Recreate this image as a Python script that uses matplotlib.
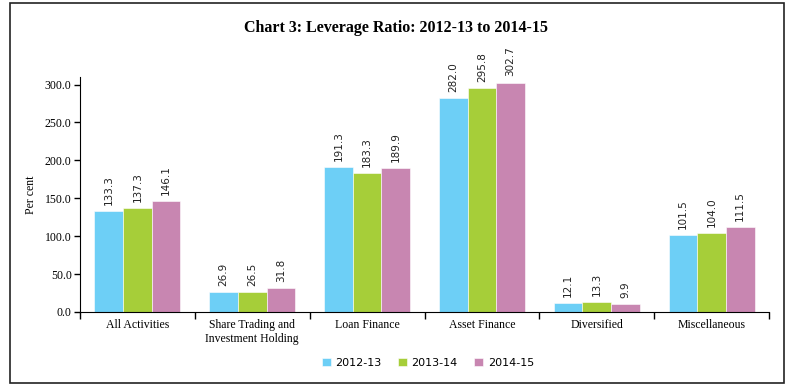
import matplotlib.pyplot as plt
import numpy as np
from matplotlib.patches import Rectangle

categories = ['All Activities', 'Share Trading and\nInvestment Holding', 'Loan Finance',
              'Asset Finance', 'Diversified', 'Miscellaneous']
years = ['2012-13', '2013-14', '2014-15']
v2013 = [133.3, 26.9, 191.3, 282.0, 12.1, 101.5]
v2014 = [137.3, 26.5, 183.3, 295.8, 13.3, 104.0]
v2015 = [146.1, 31.8, 189.9, 302.7, 9.9, 111.5]
colors = ['#6DCFF6', '#A6CE39', '#C886B1']

serif = ['Liberation Serif', 'DejaVu Serif']
sans = ['DejaVu Sans']

fig = plt.figure(figsize=(7.92, 3.91), dpi=100)
ax = fig.add_axes([80/792, 1-312/391, (769-80)/792, (312-77)/391])

# outer frame
fig.patches.append(Rectangle((10/792, 1-383/391), (784-10)/792, (383-3)/391,
                             transform=fig.transFigure, fill=False, ec='#222222', lw=1.2))

x = np.arange(len(categories))
w = 0.25
for i, (vals, c, lab) in enumerate(zip([v2013, v2014, v2015], colors, years)):
    bars = ax.bar(x + (i-1)*w, vals, w, color=c, label=lab, edgecolor='white', linewidth=0.4)
    for b, v in zip(bars, vals):
        ax.text(b.get_x() + b.get_width()/2, v + 8, f'{v:.1f}', rotation=90,
                ha='center', va='bottom', fontsize=7.5, family=sans, color='#222222')

ax.set_xlim(-0.5, 5.5)
ax.set_ylim(0, 310)
ax.set_yticks(np.arange(0, 301, 50))
ax.set_yticklabels([f'{t:.1f}' for t in np.arange(0, 301, 50)], family=serif, fontsize=8.5)
ax.set_xticks(np.arange(-0.5, 5.6, 1))
ax.set_xticklabels([])
ax.set_xticks(x, minor=True)
ax.set_xticklabels(categories, minor=True, family=serif, fontsize=8.5)
ax.tick_params(axis='x', which='minor', length=0, pad=5)
ax.tick_params(axis='x', which='major', length=5, width=1, direction='out')
ax.tick_params(axis='y', length=4, width=1, direction='out', pad=2)
for s in ['top', 'right']:
    ax.spines[s].set_visible(False)
ax.set_ylabel('Per cent', family=serif, fontsize=8.5, labelpad=6)

fig.text(0.5, 1-28/391, 'Chart 3: Leverage Ratio: 2012-13 to 2014-15', ha='center', va='center',
         family=serif, fontsize=11.5, fontweight='bold')

leg = ax.legend(loc='center', bbox_to_anchor=((428-80)/(769-80), (312-363)/(312-77)),
                ncol=3, frameon=False, prop={'family': sans, 'size': 8},
                handlelength=0.8, handleheight=0.8, handletextpad=0.4, columnspacing=1.5)

fig.savefig('out.png', dpi=100)
